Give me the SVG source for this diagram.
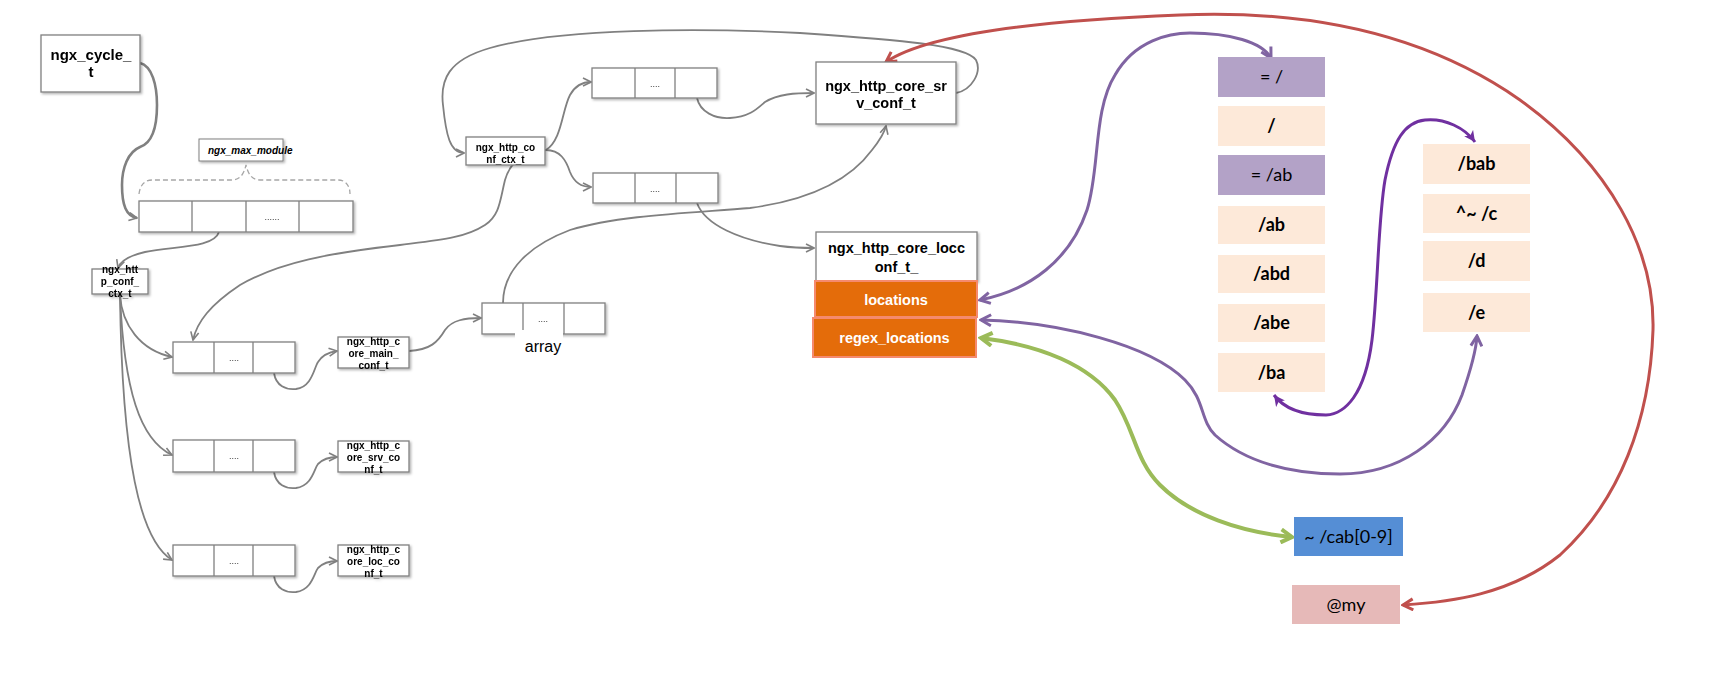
<svg xmlns="http://www.w3.org/2000/svg" width="1720" height="688" viewBox="0 0 1720 688">
<defs>
<style>
.bx{fill:#fff;stroke:#808080;stroke-width:1.3}
.sh{filter:url(#ds)}
.t{font-family:"Liberation Sans",Arial,sans-serif;font-weight:bold;fill:#000;text-anchor:middle}
.t10{font-size:10px}
.t14{font-size:14.5px}
.dots{font-family:"Liberation Sans",Arial,sans-serif;font-size:9px;fill:#333;text-anchor:middle}
.g{fill:none;stroke:#808080;stroke-width:1.8}
.lt{font-family:Lato,"Liberation Sans",sans-serif;font-size:18px;fill:#000;text-anchor:middle}
.b{font-weight:bold}
.pk{fill:#FDE9D9}
.pu{fill:#B3A2C7}
.or{fill:#E46C0A;stroke:#F58A6E;stroke-width:2}
.wt{font-family:"Liberation Sans",Arial,sans-serif;font-weight:bold;font-size:14.5px;fill:#fff;text-anchor:middle}
</style>
<filter id="ds" x="-10%" y="-10%" width="130%" height="140%">
<feDropShadow dx="1.5" dy="1.5" stdDeviation="0.8" flood-color="#000" flood-opacity="0.3"/>
</filter>
<marker id="ag" viewBox="0 0 10 10" refX="9" refY="5" markerWidth="10" markerHeight="10" markerUnits="userSpaceOnUse" orient="auto-start-reverse">
<path d="M1,1 L9,5 L1,9" fill="none" stroke="#808080" stroke-width="1.6"/>
</marker>
<marker id="ap" viewBox="0 0 14 14" refX="12" refY="7" markerWidth="14" markerHeight="14" markerUnits="userSpaceOnUse" orient="auto-start-reverse">
<path d="M2,1.5 L12,7 L2,12.5" fill="none" stroke="#8064A2" stroke-width="3"/>
</marker>
<marker id="av" viewBox="0 0 12 12" refX="11" refY="6" markerWidth="12" markerHeight="12" markerUnits="userSpaceOnUse" orient="auto-start-reverse">
<path d="M0,0.5 L11,6 L0,11.5 L3,6 z" fill="#7030A0"/>
</marker>
<marker id="ar" viewBox="0 0 14 14" refX="12" refY="7" markerWidth="14" markerHeight="14" markerUnits="userSpaceOnUse" orient="auto-start-reverse">
<path d="M2,1.5 L12,7 L2,12.5" fill="none" stroke="#C0504D" stroke-width="3"/>
</marker>
<marker id="agr" viewBox="0 0 16 16" refX="13" refY="8" markerWidth="16" markerHeight="16" markerUnits="userSpaceOnUse" orient="auto-start-reverse">
<path d="M2,1.5 L13,8 L2,14.5" fill="none" stroke="#9BBB59" stroke-width="4"/>
</marker>
</defs>
<rect width="1720" height="688" fill="#fff"/>

<g id="connectors">
<path class="g" style="stroke-width:2.6" d="M140,63 C152,66 157,85 157,105 C157,128 152,143 140,147 C128,152 122,168 122,185 C122,205 126,216 137,218" marker-end="url(#ag)"/>
<path class="g" d="M219,232 C214,248 175,246 145,252 C128,256 120,262 118,268" marker-end="url(#ag)"/>
<path class="g" d="M120,295 C122,325 140,350 172,357" marker-end="url(#ag)"/>
<path class="g" d="M120,295 C124,390 140,440 172,455" marker-end="url(#ag)"/>
<path class="g" d="M120,295 C122,460 140,540 172,560" marker-end="url(#ag)"/>
<path class="g" d="M274,373 C276,386 286,390 296,389 C312,387 314,368 318,362 C323,354 330,352 337,351" marker-end="url(#ag)"/>
<path class="g" d="M274,472 C276,485 286,489 296,488 C312,486 314,469 318,464 C323,459 330,457 337,457" marker-end="url(#ag)"/>
<path class="g" d="M274,576 C276,589 286,593 296,592 C312,590 314,573 318,568 C323,563 330,561 337,561" marker-end="url(#ag)"/>
<path class="g" d="M409,351 C430,350 438,342 445,330 C452,320 465,318 481,318" marker-end="url(#ag)"/>
<path class="g" d="M546,150 C562,140 562,110 570,95 C575,86 582,82 591,82" marker-end="url(#ag)"/>
<path class="g" d="M546,150 C560,150 566,160 570,172 C574,182 580,187 591,187" marker-end="url(#ag)"/>
<path class="g" d="M547,150 C525,150 510,162 505,180 C500,200 500,215 485,225 C465,238 440,240 400,245 C330,253 280,262 240,285 C210,305 197,322 193,340" marker-end="url(#ag)"/>
<path class="g" d="M503,303 C503,270 530,245 570,230 C620,215 690,213 750,208 C810,200 850,180 872,150 C880,140 884,134 886,126" marker-end="url(#ag)"/>
<path class="g" d="M697,98 C700,112 715,119 730,118 C750,117 758,108 765,102 C778,94 795,93 814,93" marker-end="url(#ag)"/>
<path class="g" d="M697,203 C705,225 740,240 780,246 C795,248 805,248 814,248" marker-end="url(#ag)"/>
<path class="g" d="M956,93 C972,90 982,72 976,60 C966,45 900,40 800,33 C700,28 560,28 490,48 C448,60 440,80 443,105 C446,135 450,153 464,153" marker-end="url(#ag)"/>

<path fill="none" stroke="#C0504D" stroke-width="3" d="M886,62 C930,32 1050,20 1180,15 C1300,10 1420,30 1520,100 C1610,165 1655,250 1653,330 C1650,420 1620,500 1560,555 C1510,595 1450,602 1403,605" marker-start="url(#ar)" marker-end="url(#ar)"/>
<path fill="none" stroke="#8064A2" stroke-width="3" d="M980,300 C1030,290 1070,260 1087,210 C1100,170 1093,110 1115,75 C1135,40 1170,33 1190,33 C1230,33 1262,42 1271,58" marker-start="url(#ap)" marker-end="url(#ap)"/>
<path fill="none" stroke="#8064A2" stroke-width="3" d="M981,320 C1060,322 1150,345 1185,380 C1205,400 1200,420 1215,435 C1245,462 1290,474 1340,474 C1400,474 1445,440 1462,395 C1470,372 1476,352 1477,336" marker-start="url(#ap)" marker-end="url(#ap)"/>
<path fill="none" stroke="#7030A0" stroke-width="3" d="M1274,395 C1285,410 1305,415 1326,415 C1345,414 1365,395 1372,340 C1378,290 1378,220 1385,180 C1393,140 1405,122 1425,120 C1445,118 1465,128 1475,142" marker-start="url(#av)" marker-end="url(#av)"/>
<path fill="none" stroke="#9BBB59" stroke-width="4" d="M981,338 C1040,345 1090,365 1115,400 C1135,430 1135,460 1160,485 C1190,515 1240,532 1292,537" marker-start="url(#agr)" marker-end="url(#agr)"/>
</g>

<g id="n-cycle" class="sh">
<rect class="bx" x="41" y="35" width="99" height="57"/>
<text class="t" style="font-size:15px" x="91" y="60">ngx_cycle_</text>
<text class="t" style="font-size:15px" x="91" y="77">t</text>
</g>

<g id="n-maxmod">
<rect class="bx sh" x="199" y="139" width="84" height="22" style="stroke-width:1"/>
<text class="t t10" style="font-style:italic;text-anchor:start" x="208" y="153.5">ngx_max_module</text>
<path d="M139,194 C140,186 144,180 152,180 L232,180 C240,180 244,174 246,165 C248,174 252,180 260,180 L338,180 C346,180 350,186 350,194" fill="none" stroke="#A6A6A6" stroke-width="1.3" stroke-dasharray="5,3"/>
</g>

<g id="n-modarr" class="sh">
<rect class="bx" x="139" y="201" width="214" height="31"/>
<path d="M192,201 V232 M246,201 V232 M299,201 V232" stroke="#808080" stroke-width="1.3"/>
<text class="dots" x="272" y="220">......</text>
</g>

<g id="n-ctx1" class="sh">
<rect class="bx" x="92" y="269" width="56" height="25"/>
<text class="t t10" x="120" y="273">ngx_htt</text>
<text class="t t10" x="120" y="285">p_conf_</text>
<text class="t t10" x="120" y="297">ctx_t</text>
</g>

<g id="n-row1" class="sh">
<rect class="bx" x="173" y="342" width="122" height="31"/>
<path d="M214,342 V373 M253,342 V373" stroke="#808080" stroke-width="1.3"/>
<text class="dots" x="234" y="361">....</text>
</g>
<g id="n-row2" class="sh">
<rect class="bx" x="173" y="440" width="122" height="32"/>
<path d="M214,440 V472 M253,440 V472" stroke="#808080" stroke-width="1.3"/>
<text class="dots" x="234" y="459">....</text>
</g>
<g id="n-row3" class="sh">
<rect class="bx" x="173" y="545" width="122" height="31"/>
<path d="M214,545 V576 M253,545 V576" stroke="#808080" stroke-width="1.3"/>
<text class="dots" x="234" y="564">....</text>
</g>

<g id="n-main" class="sh">
<rect class="bx" x="338" y="337" width="71" height="31"/>
<text class="t t10" x="373.5" y="345">ngx_http_c</text>
<text class="t t10" x="373.5" y="357">ore_main_</text>
<text class="t t10" x="373.5" y="369">conf_t</text>
</g>
<g id="n-srv" class="sh">
<rect class="bx" x="338" y="441" width="71" height="31"/>
<text class="t t10" x="373.5" y="449">ngx_http_c</text>
<text class="t t10" x="373.5" y="461">ore_srv_co</text>
<text class="t t10" x="373.5" y="473">nf_t</text>
</g>
<g id="n-loc" class="sh">
<rect class="bx" x="338" y="545" width="71" height="31"/>
<text class="t t10" x="373.5" y="553">ngx_http_c</text>
<text class="t t10" x="373.5" y="565">ore_loc_co</text>
<text class="t t10" x="373.5" y="577">nf_t</text>
</g>

<g id="n-ctx2" class="sh">
<rect class="bx" x="466" y="137" width="79" height="28"/>
<text class="t t10" x="505.5" y="151">ngx_http_co</text>
<text class="t t10" x="505.5" y="162.5">nf_ctx_t</text>
</g>

<g id="n-arr-up" class="sh">
<rect class="bx" x="592" y="68" width="125" height="30"/>
<path d="M635,68 V98 M675,68 V98" stroke="#808080" stroke-width="1.3"/>
<text class="dots" x="655" y="87">....</text>
</g>
<g id="n-arr-low" class="sh">
<rect class="bx" x="593" y="173" width="125" height="30"/>
<path d="M635,173 V203 M676,173 V203" stroke="#808080" stroke-width="1.3"/>
<text class="dots" x="655" y="192">....</text>
</g>

<g id="n-array">
<g class="sh">
<rect class="bx" x="482" y="303" width="123" height="31"/>
<path d="M523,303 V334 M564,303 V334" stroke="#808080" stroke-width="1.3"/>
<text class="dots" x="543" y="322">....</text>
</g>
<rect x="515" y="330" width="48" height="28" fill="#fff"/>
<text x="543" y="352" style="font-family:'Liberation Sans',Arial,sans-serif;font-size:16px;text-anchor:middle">array</text>
</g>

<g id="n-srvconf" class="sh">
<rect class="bx" x="816" y="62" width="140" height="62"/>
<text class="t t14" x="886" y="91">ngx_http_core_sr</text>
<text class="t t14" x="886" y="108">v_conf_t</text>
</g>

<g id="n-locconf">
<g class="sh">
<rect class="bx" x="816" y="232" width="161" height="49"/>
</g>
<text class="t t14" x="896.5" y="253">ngx_http_core_locc</text>
<text class="t t14" x="896.5" y="272">onf_t_</text>
<rect class="or" x="815" y="281" width="162" height="36"/>
<text class="wt" x="896" y="305">locations</text>
<rect class="or" x="813" y="318" width="163" height="39"/>
<text class="wt" x="894.5" y="343">regex_locations</text>
</g>

<g id="n-l1"><rect class="pu" x="1218" y="57" width="107" height="40"/><text class="lt" x="1271.5" y="83">= /</text></g>
<g id="n-l2"><rect class="pk" x="1218" y="106" width="107" height="40"/><text class="lt b" x="1271.5" y="132">/</text></g>
<g id="n-l3"><rect class="pu" x="1218" y="155" width="107" height="40"/><text class="lt" x="1271.5" y="181">= /ab</text></g>
<g id="n-l4"><rect class="pk" x="1218" y="206" width="107" height="38"/><text class="lt b" x="1271.5" y="231">/ab</text></g>
<g id="n-l5"><rect class="pk" x="1218" y="255" width="107" height="38"/><text class="lt b" x="1271.5" y="280">/abd</text></g>
<g id="n-l6"><rect class="pk" x="1218" y="304" width="107" height="38"/><text class="lt b" x="1271.5" y="329">/abe</text></g>
<g id="n-l7"><rect class="pk" x="1218" y="353" width="107" height="39"/><text class="lt b" x="1271.5" y="378.5">/ba</text></g>

<g id="n-r1"><rect class="pk" x="1423" y="144" width="107" height="40"/><text class="lt b" x="1476.5" y="170">/bab</text></g>
<g id="n-r2"><rect class="pk" x="1423" y="194" width="107" height="39"/><text class="lt b" x="1476.5" y="219.5">^~ /c</text></g>
<g id="n-r3"><rect class="pk" x="1423" y="241" width="107" height="40"/><text class="lt b" x="1476.5" y="267">/d</text></g>
<g id="n-r4"><rect class="pk" x="1423" y="293" width="107" height="39"/><text class="lt b" x="1476.5" y="318.5">/e</text></g>

<g id="n-regex"><rect x="1294" y="517" width="109" height="39" fill="#558ED5"/><text class="lt" x="1348.5" y="542.5">~ /cab[0-9]</text></g>
<g id="n-named"><rect x="1292" y="585" width="108" height="39" fill="#E6B9B8"/><text class="lt" x="1346" y="610.5">@my</text></g>
</svg>
